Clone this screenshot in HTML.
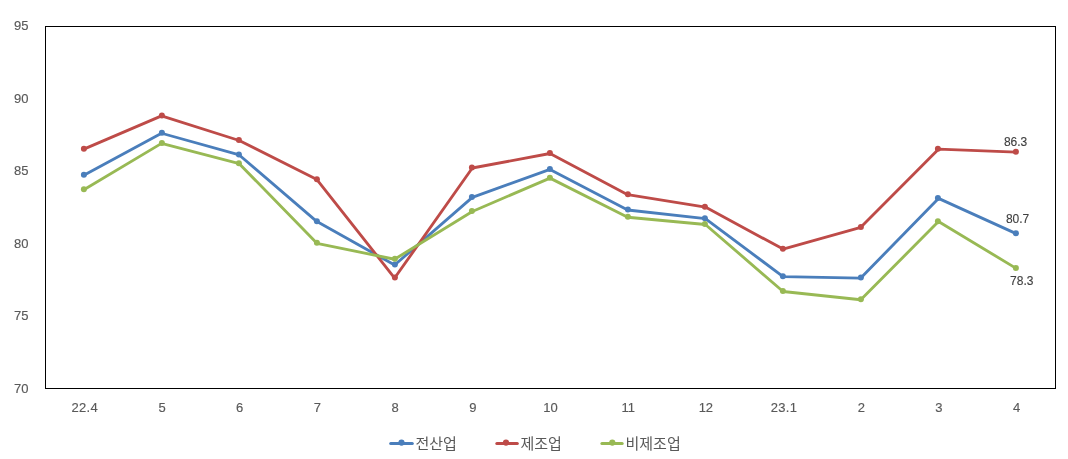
<!DOCTYPE html>
<html lang="ko"><head><meta charset="utf-8"><title>chart</title>
<style>
html,body{margin:0;padding:0;background:#fff;}
body{width:1068px;height:459px;overflow:hidden;font-family:"Liberation Sans",sans-serif;}
svg{display:block;filter:opacity(0.9999);}
text{font-family:"Liberation Sans",sans-serif;}
</style></head><body>
<svg width="1068" height="459" viewBox="0 0 1068 459">
<title>전산업 / 제조업 / 비제조업 (22.4 – 23.4)</title>
<desc>Line chart. Legend: 전산업, 제조업, 비제조업. Latest values: 제조업 86.3, 전산업 80.7, 비제조업 78.3.</desc>
<rect x="0" y="0" width="1068" height="459" fill="#ffffff"/>
<rect x="45.5" y="26.5" width="1010.0" height="362.0" fill="none" stroke="#000" stroke-width="1" shape-rendering="crispEdges"/>
<g font-size="13" fill="#595959" stroke="#595959" stroke-width="0.15" text-anchor="end">
<text x="28.4" y="30.10">95</text><text x="28.4" y="103.00">90</text><text x="28.4" y="175.00">85</text><text x="28.4" y="248.00">80</text><text x="28.4" y="320.00">75</text><text x="28.4" y="393.00">70</text>
</g>
<g font-size="13" fill="#595959" stroke="#595959" stroke-width="0.15" text-anchor="middle">
<text x="84.70" y="412" letter-spacing="0.3">22.4</text><text x="162.04" y="412">5</text><text x="239.73" y="412">6</text><text x="317.42" y="412">7</text><text x="395.12" y="412">8</text><text x="472.81" y="412">9</text><text x="550.50" y="412">10</text><text x="628.19" y="412">11</text><text x="705.88" y="412">12</text><text x="783.93" y="412" letter-spacing="0.3">23.1</text><text x="861.27" y="412">2</text><text x="938.96" y="412">3</text><text x="1016.65" y="412">4</text>
</g>
<polyline points="83.85,175.24 161.54,133.25 239.23,154.97 316.92,221.58 394.62,265.02 472.31,197.40 550.00,169.45 627.69,210.00 705.38,218.68 783.08,276.60 860.77,278.05 938.46,198.41 1016.15,233.60" fill="none" stroke="#4a7ebb" stroke-width="2.85" stroke-linejoin="round" stroke-linecap="round"/>
<g fill="#4a7ebb"><circle cx="83.90" cy="174.79" r="3.0"/><circle cx="161.90" cy="132.80" r="3.0"/><circle cx="238.90" cy="154.52" r="3.0"/><circle cx="316.90" cy="221.13" r="3.0"/><circle cx="394.90" cy="264.57" r="3.0"/><circle cx="471.90" cy="196.95" r="3.0"/><circle cx="549.90" cy="169.00" r="3.0"/><circle cx="627.90" cy="209.55" r="3.0"/><circle cx="704.90" cy="218.23" r="3.0"/><circle cx="782.90" cy="276.15" r="3.0"/><circle cx="860.90" cy="277.60" r="3.0"/><circle cx="937.90" cy="197.96" r="3.0"/><circle cx="1015.90" cy="233.15" r="3.0"/></g>
<polyline points="83.85,149.18 161.54,115.88 239.23,140.49 316.92,179.59 394.62,278.05 472.31,168.00 550.00,153.52 627.69,194.65 705.38,207.10 783.08,249.09 860.77,227.37 938.46,149.18 1016.15,152.08" fill="none" stroke="#be4b48" stroke-width="2.85" stroke-linejoin="round" stroke-linecap="round"/>
<g fill="#be4b48"><circle cx="83.90" cy="148.73" r="3.0"/><circle cx="161.90" cy="115.43" r="3.0"/><circle cx="238.90" cy="140.04" r="3.0"/><circle cx="316.90" cy="179.14" r="3.0"/><circle cx="394.90" cy="277.60" r="3.0"/><circle cx="471.90" cy="167.55" r="3.0"/><circle cx="549.90" cy="153.07" r="3.0"/><circle cx="627.90" cy="194.20" r="3.0"/><circle cx="704.90" cy="206.65" r="3.0"/><circle cx="782.90" cy="248.64" r="3.0"/><circle cx="860.90" cy="226.92" r="3.0"/><circle cx="937.90" cy="148.73" r="3.0"/><circle cx="1015.90" cy="151.63" r="3.0"/></g>
<polyline points="83.85,189.72 161.54,143.39 239.23,163.66 316.92,243.30 394.62,259.23 472.31,211.44 550.00,178.14 627.69,217.24 705.38,224.48 783.08,291.52 860.77,299.77 938.46,221.58 1016.15,268.35" fill="none" stroke="#98b954" stroke-width="2.85" stroke-linejoin="round" stroke-linecap="round"/>
<g fill="#98b954"><circle cx="83.90" cy="189.27" r="3.0"/><circle cx="161.90" cy="142.94" r="3.0"/><circle cx="238.90" cy="163.21" r="3.0"/><circle cx="316.90" cy="242.85" r="3.0"/><circle cx="394.90" cy="258.78" r="3.0"/><circle cx="471.90" cy="210.99" r="3.0"/><circle cx="549.90" cy="177.69" r="3.0"/><circle cx="627.90" cy="216.79" r="3.0"/><circle cx="704.90" cy="224.03" r="3.0"/><circle cx="782.90" cy="291.07" r="3.0"/><circle cx="860.90" cy="299.32" r="3.0"/><circle cx="937.90" cy="221.13" r="3.0"/><circle cx="1015.90" cy="267.90" r="3.0"/></g>
<g font-size="12" fill="#404040" stroke="#404040" stroke-width="0.12" text-anchor="middle">
<text x="1015.6" y="146">86.3</text><text x="1017.6" y="223.4">80.7</text><text x="1021.8" y="285.3">78.3</text>
</g>
<line x1="390.70" y1="443.5" x2="412.30" y2="443.5" stroke="#4a7ebb" stroke-width="3" stroke-linecap="round"/><circle cx="401.50" cy="442.60" r="3.1" fill="#4a7ebb"/>
<line x1="496.80" y1="443.5" x2="517.30" y2="443.5" stroke="#be4b48" stroke-width="3" stroke-linecap="round"/><circle cx="506.00" cy="442.60" r="3.1" fill="#be4b48"/>
<line x1="601.90" y1="443.5" x2="622.20" y2="443.5" stroke="#98b954" stroke-width="3" stroke-linecap="round"/><circle cx="612.30" cy="442.60" r="3.1" fill="#98b954"/>
<g fill="#595959" font-size="15" style='font-family:"Liberation Sans","Noto Sans CJK KR",sans-serif'>
<text x="415.5" y="448.5" style='font-family:"Liberation Sans","Noto Sans CJK KR",sans-serif'>전산업</text>
<text x="520.5" y="448.5" style='font-family:"Liberation Sans","Noto Sans CJK KR",sans-serif'>제조업</text>
<text x="625.5" y="448.5" style='font-family:"Liberation Sans","Noto Sans CJK KR",sans-serif'>비제조업</text>
</g>
</svg>
</body></html>
